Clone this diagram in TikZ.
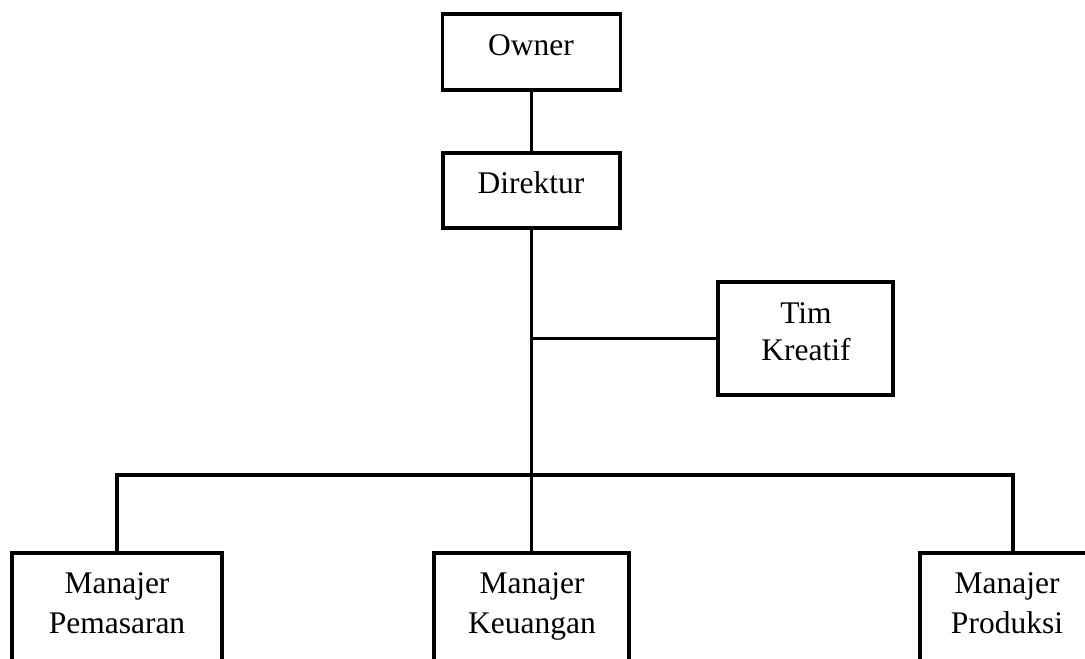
\documentclass[tikz,border=0pt]{standalone}
\usepackage{fontspec}
\setmainfont{Liberation Serif}
\begin{document}
\begin{tikzpicture}[x=1pt,y=-1pt,
  box/.style={draw=black,line width=3.2pt,rectangle,inner sep=0pt},
  lbl/.style={anchor=base,inner sep=0pt,font=\fontsize{31.5}{38}\selectfont},
  conn/.style={draw=black,line width=3.2pt}]
\useasboundingbox (0,0) rectangle (1085,659);
\clip (0,0) rectangle (1085,659);
% boxes
\node[box,minimum width=178pt,minimum height=76pt] (owner) at (531.5,52) {};
\node[box,minimum width=177pt,minimum height=75pt] (dir) at (531.5,190.5) {};
\node[box,minimum width=175pt,minimum height=113pt] (tim) at (805.5,338.5) {};
\node[box,minimum width=210pt,minimum height=160pt] (mp) at (117,633) {};
\node[box,minimum width=195pt,minimum height=160pt] (mk) at (531.5,633) {};
\node[box,minimum width=186pt,minimum height=160pt] (mpr) at (1013,633) {};
% texts
\node[lbl] (t1) at (531,55) {Owner};
\node[lbl] (t2) at (531,193) {Direktur};
\node[lbl] (t3) at (806,323) {Tim};
\node[lbl] (t4) at (806,360) {Kreatif};
\node[lbl] (t5) at (117,593) {Manajer};
\node[lbl] (t6) at (117,633) {Pemasaran};
\node[lbl] (t7) at (532,593) {Manajer};
\node[lbl] (t8) at (532,633) {Keuangan};
\node[lbl] (t9) at (1007,593) {Manajer};
\node[lbl] (t10) at (1007,633) {Produksi};
% connectors
\coordinate (bus) at (531.5,475);
\draw[conn] (owner.south) -- (dir.north);
\draw[conn] (dir.south) -- (bus);
\draw[conn] (dir.south |- tim.west) -- (tim.west);
\draw[conn] (mp.north) -- (mp.north |- bus) -- (mpr.north |- bus) -- (mpr.north);
\draw[conn] (bus) -- (mk.north);
\end{tikzpicture}
\end{document}
